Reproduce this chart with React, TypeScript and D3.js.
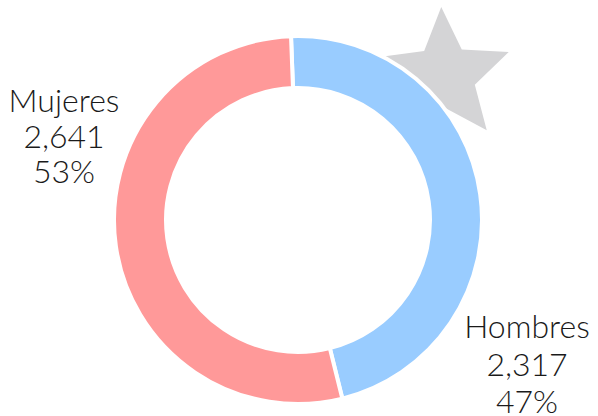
import React from "react";
import * as d3 from "d3";

const categories = ["Hombres", "Mujeres"];
const values = [2317, 2641];
const percents = ["47%", "53%"];
const colors = ["#99ccff", "#ff9999"];

const W = 598, H = 416;
const cx = 298, cy = 220;
const outerR = 184, innerR = 132;
const startOffset = -0.038;

function starPath(x: number, y: number, R: number, r: number, rot: number) {
  const pts: [number, number][] = [];
  for (let i = 0; i < 10; i++) {
    const a = rot + (i * Math.PI) / 5;
    const rr = i % 2 === 0 ? R : r;
    pts.push([x + rr * Math.sin(a), y - rr * Math.cos(a)]);
  }
  return d3.line()(pts) + "Z";
}

export default function App() {
  const pie = d3.pie<number>().sort(null).startAngle(startOffset).endAngle(2 * Math.PI + startOffset);
  const arcs = pie(values);
  const arc = d3.arc<d3.PieArcDatum<number>>().innerRadius(innerR).outerRadius(outerR);
  const fmt = d3.format(",");
  const labelPos = [
    { x: 527, y: 338, gap: 37.5 },
    { x: 64, y: 112, gap: 35.5 },
  ];
  return (
    <svg width={W} height={H} style={{ position: "absolute", left: 0, top: 0 }}>
      <path d={starPath(444, 76, 69, 32, -0.04)} fill="#d4d4d6" />
      <g transform={`translate(${cx},${cy})`}>
        {arcs.map((a, i) => (
          <path key={i} d={arc(a) || ""} fill={colors[i]} stroke="#fff" strokeWidth={4} />
        ))}
      </g>
      {categories.map((c, i) => (
        <text
          key={c}
          x={labelPos[i].x}
          textAnchor="middle"
          fontFamily="Lato, sans-serif"
          fontWeight={300}
          fontSize={32}
          fill="#1a1a1a"
        >
          <tspan x={labelPos[i].x} y={labelPos[i].y}>{c}</tspan>
          <tspan x={labelPos[i].x} y={labelPos[i].y + labelPos[i].gap}>{fmt(values[i])}</tspan>
          <tspan x={labelPos[i].x} y={labelPos[i].y + 2 * labelPos[i].gap}>{percents[i]}</tspan>
        </text>
      ))}
    </svg>
  );
}
